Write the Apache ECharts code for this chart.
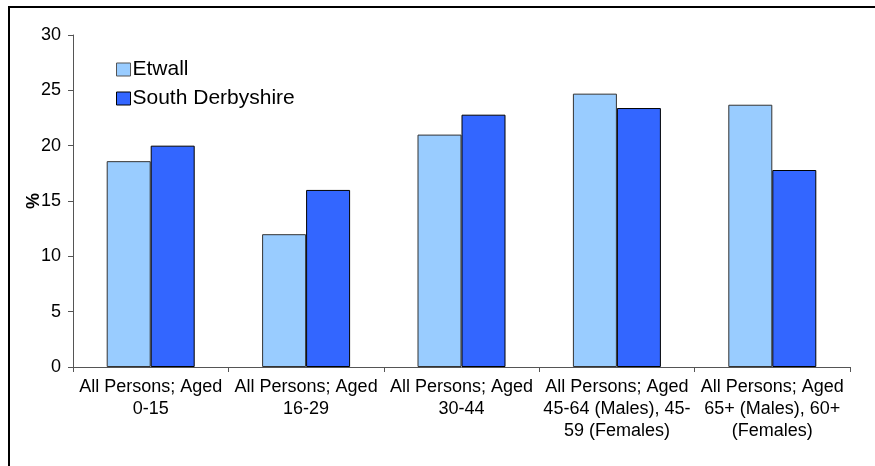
<!DOCTYPE html>
<html>
<head>
<meta charset="utf-8">
<script src="https://cdn.jsdelivr.net/npm/echarts@6/dist/echarts.min.js"></script>
<style>
html,body{margin:0;padding:0;background:#fff;}
#chart{width:875px;height:466px;}
</style>
</head>
<body>
<div id="chart"></div>
<script>
var categories = [
  "All Persons; Aged\n0-15",
  "All Persons; Aged\n16-29",
  "All Persons; Aged\n30-44",
  "All Persons; Aged\n45-64 (Males), 45-\n59 (Females)",
  "All Persons; Aged\n65+ (Males), 60+\n(Females)"
];
var seriesNames = ["Etwall", "South Derbyshire"];
var etwall = [18.6, 12.0, 21.0, 24.7, 23.7];
var southDerbyshire = [20.0, 16.0, 22.8, 23.4, 17.8];
var yTicks = [0, 5, 10, 15, 20, 25, 30];

var FONT = "'Liberation Sans', Arial, sans-serif";
var chart = echarts.init(document.getElementById('chart'), null, {renderer: 'canvas'});
chart.setOption({
  animation: false,
  backgroundColor: '#fff',
  textStyle: {fontFamily: FONT, color: '#000'},
  grid: {left: 73, right: 25, top: 35, bottom: 99, containLabel: false},
  legend: {
    orient: 'vertical',
    left: 111,
    top: 54,
    itemWidth: 14,
    itemHeight: 13,
    itemGap: 8,
    icon: 'rect',
    textStyle: {fontFamily: FONT, fontSize: 21, color: '#000', padding: [0,0,0,-3]},
    data: [
      {name: seriesNames[0], itemStyle: {color: '#99CCFF', borderColor: '#555', borderWidth: 1}},
      {name: seriesNames[1], itemStyle: {color: '#3366FF', borderColor: '#000', borderWidth: 1}}
    ]
  },
  xAxis: {
    type: 'category',
    data: categories,
    axisLine: {lineStyle: {color: '#555', width: 1}},
    axisTick: {show: true, length: 5, lineStyle: {color: '#555'}},
    axisLabel: {interval: 0, fontFamily: FONT, fontSize: 18, lineHeight: 22, color: '#000', margin: 9}
  },
  yAxis: {
    type: 'value',
    min: yTicks[0],
    max: yTicks[yTicks.length - 1],
    interval: 5,
    name: '%',
    nameLocation: 'middle',
    nameGap: 30,
    nameMoveOverlap: false,
    nameRotate: 90,
    nameTextStyle: {fontFamily: FONT, fontSize: 18, fontWeight: 'bold', color: '#000'},
    axisLine: {show: true, lineStyle: {color: '#555', width: 1}},
    axisTick: {show: true, length: 5, lineStyle: {color: '#555'}},
    splitLine: {show: false},
    axisLabel: {fontFamily: FONT, fontSize: 18, color: '#000', margin: 12}
  },
  series: [
    {name: seriesNames[0], type: 'bar', data: etwall, barWidth: 44, barGap: '0%',
     itemStyle: {color: '#99CCFF', borderColor: '#333', borderWidth: 1}},
    {name: seriesNames[1], type: 'bar', data: southDerbyshire, barWidth: 44, barGap: '0%',
     itemStyle: {color: '#3366FF', borderColor: '#000', borderWidth: 1}}
  ],
  graphic: [
    {type: 'line', shape: {x1: 8, y1: 7, x2: 875, y2: 7}, style: {stroke: '#000', lineWidth: 2}},
    {type: 'line', shape: {x1: 9, y1: 6, x2: 9, y2: 466}, style: {stroke: '#000', lineWidth: 2}}
  ]
});
</script>
</body>
</html>
